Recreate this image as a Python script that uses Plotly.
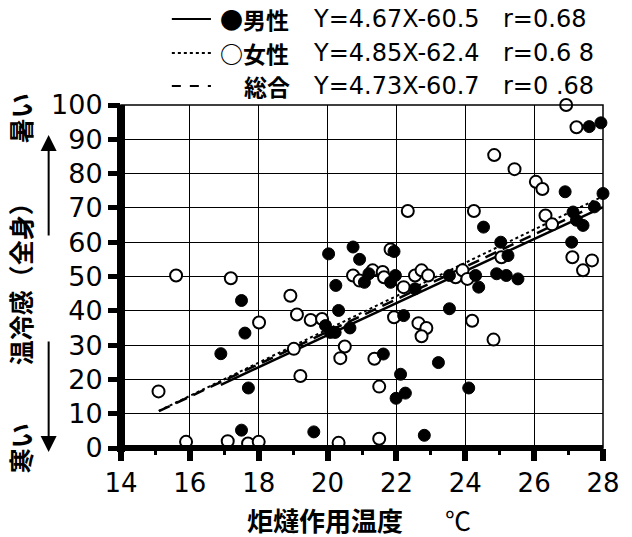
import plotly.graph_objects as go

# ---------------- data ----------------
male_x = [16.9, 17.5, 17.6, 17.7, 17.5, 19.6, 20.03, 20.74, 20.93, 21.93, 21.07, 21.97,
          21.83, 20.24, 20.32, 19.94, 20.08, 20.22, 20.65, 22.54, 23.54, 24.3, 24.39,
          23.54, 22.21, 21.62, 23.22, 22.12, 22.26, 21.99, 24.1, 22.81, 24.53, 25.03,
          25.24, 24.91, 25.19, 25.53, 26.9, 28.0, 27.13, 27.75, 27.23, 27.42, 27.09,
          27.6, 27.94, 21.2]
male_y = [27.5, 43, 33.5, 17.5, 5.2, 4.7, 56.6, 58.6, 55, 57.3, 48.3, 50.3,
          48.3, 47.4, 40.1, 35.7, 33.7, 33.7, 35, 46.4, 50.3, 50.3, 46.9,
          40.6, 38.6, 27.4, 24.9, 21.5, 16, 14.5, 17.5, 3.7, 64.4, 60,
          56.1, 50.8, 50.3, 49.3, 74.7, 74.2, 68.8, 70.3, 66.4, 64.9, 60,
          93.7, 94.8, 50.8]

female_x = [15.6, 17.19, 18.92, 19.11, 19.51, 19.84, 20.74, 20.93, 21.31, 21.6, 21.64,
            21.83, 18.01, 19.02, 19.21, 15.09, 15.89, 17.1, 17.69, 18.0, 20.32, 20.5,
            20.37, 21.93, 22.54, 22.73, 22.92, 22.21, 23.72, 23.92, 24.06, 24.2, 22.64,
            22.87, 22.73, 24.82, 21.36, 21.5, 21.5, 27.42, 27.11, 27.68, 26.33, 26.52,
            26.05, 26.24, 24.84, 25.43, 26.93, 27.23, 22.33, 24.25, 25.05]
female_y = [50.3, 49.5, 44.4, 38.9, 37.3, 37.6, 50.3, 48.8, 51.8, 51.3, 49.8,
            57.9, 36.6, 28.9, 21, 16.5, 1.8, 2, 1.3, 1.8, 1.5, 29.6,
            26.2, 38.1, 50.3, 51.8, 50.3, 46.9, 49.8, 51.8, 49.3, 37.1, 36.4,
            35, 32.6, 31.6, 26, 17.9, 2.7, 51.8, 55.6, 54.7, 67.8, 65.2,
            77.6, 75.5, 85.4, 81.3, 100, 93.5, 69.1, 69.1, 55.6]

# regression lines (slope, intercept, x-extent)
reg_names = ["男性", "女性", "総合"]
reg_slope = [4.67, 4.85, 4.73]
reg_icpt = [-60.5, -62.4, -60.7]
reg_xmin = [16.9, 15.1, 15.1]
reg_xmax = [28.0, 28.0, 28.0]
reg_r = ["r=0.68", "r=0.6 8", "r=0 .68"]
reg_eq = ["Y=4.67X-60.5", "Y=4.85X-62.4", "Y=4.73X-60.7"]
reg_mark = ["●男性", "○女性", "総合"]

x_ticks = [14, 16, 18, 20, 22, 24, 26, 28]
y_ticks = [0, 10, 20, 30, 40, 50, 60, 70, 80, 90, 100]

# ---------------- layout geometry ----------------
W, H = 632, 537
L, R, T, B = 121, 614, 105, 448


def xp(px):
    return (px - L) / (R - L)


def yp(py):
    return (B - py) / (B - T)


fig = go.Figure()

dashes = ["solid", "dot", "12px,7px"]
widths = [2.5, 2, 2.5]
for i in range(3):
    xs = [reg_xmin[i], reg_xmax[i]]
    ys = [reg_slope[i] * v + reg_icpt[i] for v in xs]
    fig.add_trace(go.Scatter(x=xs, y=ys, mode="lines",
                             line=dict(color="black", width=widths[i], dash=dashes[i]),
                             showlegend=False, hoverinfo="skip", cliponaxis=False))

fig.add_trace(go.Scatter(x=female_x, y=female_y, mode="markers",
                         marker=dict(size=12, color="white", line=dict(color="black", width=2)),
                         showlegend=False, cliponaxis=False))
fig.add_trace(go.Scatter(x=male_x, y=male_y, mode="markers",
                         marker=dict(size=12, color="black", line=dict(color="black", width=1)),
                         showlegend=False, cliponaxis=False))

lat = "DejaVu Sans, Liberation Sans, sans-serif"
jp = "Noto Sans CJK JP, sans-serif"

fig.update_xaxes(range=[14, 28], tickvals=x_ticks, showgrid=True, gridcolor="black", gridwidth=1,
                 ticks="outside", ticklen=12, tickwidth=6, tickcolor="black",
                 minor=dict(tickvals=[15, 17, 19, 21, 23, 25, 27], ticks="outside", ticklen=6,
                            tickwidth=3, tickcolor="black", showgrid=False),
                 tickfont=dict(family=lat, size=26, color="black"),
                 zeroline=False, showline=False, fixedrange=True)
fig.update_yaxes(range=[0, 100], tickvals=y_ticks, showgrid=True, gridcolor="black", gridwidth=1,
                 ticks="outside", ticklen=12, tickwidth=5, tickcolor="black",
                 tickfont=dict(family=lat, size=27, color="black"),
                 zeroline=False, showline=False, fixedrange=True)

shapes = [
    dict(type="rect", xref="paper", yref="paper", x0=0, x1=1, y0=0, y1=1,
         line=dict(color="black", width=1.5), layer="above"),
    dict(type="line", xref="paper", yref="paper", x0=0, x1=0, y0=yp(B + 4), y1=1.0,
         line=dict(color="black", width=8), layer="above"),
    dict(type="line", xref="paper", yref="paper", x0=xp(L - 4), x1=1.0, y0=0, y1=0,
         line=dict(color="black", width=6), layer="above"),
]

row_y = [19, 53, 86]
for i in range(3):
    shapes.append(dict(type="line", xref="paper", yref="paper", x0=xp(173), x1=xp(213),
                       y0=yp(row_y[i]), y1=yp(row_y[i]),
                       line=dict(color="black", width=2, dash=["solid", "dot", "dash"][i])))

annotations = []
for i in range(3):
    annotations.append(dict(xref="paper", yref="paper", x=xp(220 if i < 2 else 245), y=yp(row_y[i]),
                            text="<b>" + reg_mark[i] + "</b>", showarrow=False, xanchor="left",
                            yanchor="middle", font=dict(family=jp, size=23, color="black")))
    annotations.append(dict(xref="paper", yref="paper", x=xp(315), y=yp(row_y[i]),
                            text=reg_eq[i], showarrow=False, xanchor="left",
                            yanchor="middle", font=dict(family=lat, size=24, color="black")))
    annotations.append(dict(xref="paper", yref="paper", x=xp(510), y=yp(row_y[i]),
                            text=reg_r[i], showarrow=False, xanchor="left",
                            yanchor="middle", font=dict(family=lat, size=24, color="black")))

annotations.append(dict(xref="paper", yref="paper", x=xp(330), y=yp(519),
                        text="<b>炬燵作用温度</b>", showarrow=False, xanchor="center", yanchor="middle",
                        font=dict(family=jp, size=26, color="black")))
annotations.append(dict(xref="paper", yref="paper", x=xp(466), y=yp(519),
                        text="℃", showarrow=False, xanchor="center", yanchor="middle",
                        font=dict(family=jp, size=26, color="black")))

ytitle = [("暑い", 118), ("温冷感（全身）", 278), ("寒い", 448)]
for txt, cy in ytitle:
    annotations.append(dict(xref="paper", yref="paper", x=xp(18), y=yp(cy), text="<b>" + txt + "</b>",
                            textangle=-90, showarrow=False, xanchor="center", yanchor="middle",
                            font=dict(family=jp, size=25, color="black")))

annotations.append(dict(xref="paper", yref="paper", x=xp(47), y=yp(135), ax=0, ay=102,
                        axref="pixel", ayref="pixel", text="", showarrow=True,
                        arrowhead=2, arrowsize=1.6, arrowwidth=2, arrowcolor="black"))
annotations.append(dict(xref="paper", yref="paper", x=xp(47), y=yp(452), ax=0, ay=-112,
                        axref="pixel", ayref="pixel", text="", showarrow=True,
                        arrowhead=2, arrowsize=1.6, arrowwidth=2, arrowcolor="black"))

fig.update_layout(width=W, height=H, margin=dict(l=L, r=W - R, t=T, b=H - B),
                  plot_bgcolor="white", paper_bgcolor="white",
                  shapes=shapes, annotations=annotations, showlegend=False)

fig.write_html("out.html", config={"displayModeBar": False},
               post_script="document.body.style.margin='0';document.body.style.overflow='hidden';")
